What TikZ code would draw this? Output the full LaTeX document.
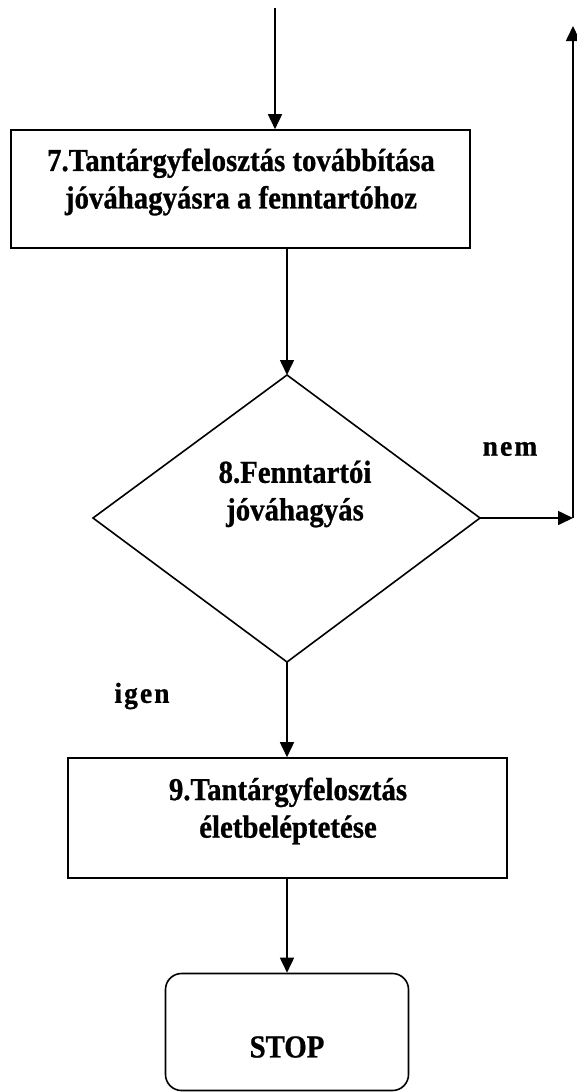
\documentclass[tikz,border=0pt]{standalone}
\usepackage{fontspec}
\setmainfont{Liberation Serif}
\usetikzlibrary{arrows.meta}
\begin{document}
\begin{tikzpicture}[x=1pt,y=-1pt,
  line width=1.6pt,
  arr/.style={-{Triangle[length=15pt,width=14pt]}},
  box/.style={draw, rectangle, inner sep=0pt},
  txt/.style={font=\bfseries\fontsize{32}{37.5}\selectfont\addfontfeature{FakeStretch=0.9,FakeBold=0.8}, align=center, inner sep=0pt},
  lbl/.style={font=\bfseries\fontsize{29}{32}\selectfont\addfontfeature{FakeStretch=0.95,FakeBold=0.8,LetterSpace=7}, inner sep=0pt}]
\useasboundingbox (0,0) rectangle (576,1092);
% nodes
\coordinate (in) at (275,8);
\node[box, minimum width=459pt, minimum height=118pt] (b7) at (240.5,189) {};
\node[txt] (t7) at (241,182) {7.Tantárgyfelosztás továbbítása\\jóváhagyásra a fenntartóhoz};
\coordinate (dt) at (287,375);
\coordinate (dl) at (93,518);
\coordinate (dr) at (480,518);
\coordinate (db) at (287,662);
\draw (dt) -- (dr) -- (db) -- (dl) -- cycle;
\node[txt] (t8) at (295,494) {8.Fenntartói\\jóváhagyás};
\node[lbl] (nem) at (510,449) {nem};
\node[lbl] (igen) at (142,696) {igen};
\coordinate (rc) at (573,518);
\coordinate (rtop) at (573,26);
\node[box, minimum width=439pt, minimum height=120pt] (b9) at (287.5,818) {};
\node[txt] (t9) at (288,811) {9.Tantárgyfelosztás\\életbeléptetése};
\node[box, rounded corners=16pt, minimum width=243pt, minimum height=117pt] (stop) at (287,1032) {};
\node[txt] (tstop) at (287,1047) {STOP};
% connectors
\draw[arr] (in) -- (in |- b7.north);
\draw[arr] (b7.south -| dt) -- (dt);
\draw[arr] (dr) -- (rc);
\draw[arr] (rc) -- (rtop);
\draw[arr] (db) -- (db |- b9.north);
\draw[arr] (b9.south -| stop.north) -- (stop.north);
\end{tikzpicture}
\end{document}
